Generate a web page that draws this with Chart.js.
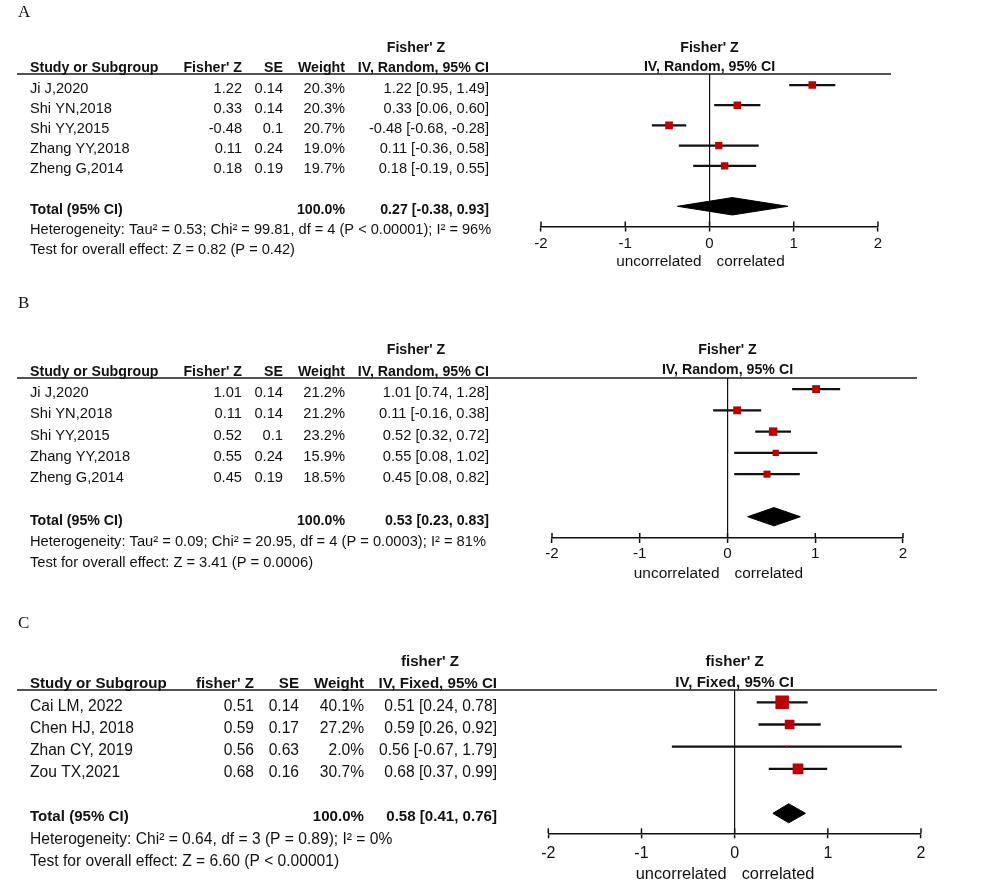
<!DOCTYPE html>
<html><head><meta charset="utf-8">
<script src="https://cdn.jsdelivr.net/npm/chart.js@4"></script>
<style>
html,body{margin:0;padding:0;background:#fff;}
#wrap{position:relative;width:1000px;height:889px;overflow:hidden;background:#fff;}
canvas{position:absolute;left:0;}
</style></head><body>
<div id="wrap">
<canvas id="cA" width="1000" height="290" style="top:0px"></canvas>
<canvas id="cB" width="1000" height="310" style="top:290px"></canvas>
<canvas id="cC" width="1000" height="289" style="top:600px"></canvas>
</div>
<script>
// ---------- DATA ----------
// Panel A
const studiesA = ["Ji J,2020", "Shi YN,2018", "Shi YY,2015", "Zhang YY,2018", "Zheng G,2014"];
const zA = [1.22, 0.33, -0.48, 0.11, 0.18];
const seA = [0.14, 0.14, 0.1, 0.24, 0.19];
const weightA = [20.3, 20.3, 20.7, 19.0, 19.7];
const ciLowA = [0.95, 0.06, -0.68, -0.36, -0.19];
const ciHighA = [1.49, 0.60, -0.28, 0.58, 0.55];
const totalA = [0.27, -0.38, 0.93];
const hetA = "Heterogeneity: Tau\u00b2 = 0.53; Chi\u00b2 = 99.81, df = 4 (P < 0.00001); I\u00b2 = 96%";
const testA = "Test for overall effect: Z = 0.82 (P = 0.42)";

// Panel B
const studiesB = ["Ji J,2020", "Shi YN,2018", "Shi YY,2015", "Zhang YY,2018", "Zheng G,2014"];
const zB = [1.01, 0.11, 0.52, 0.55, 0.45];
const seB = [0.14, 0.14, 0.1, 0.24, 0.19];
const weightB = [21.2, 21.2, 23.2, 15.9, 18.5];
const ciLowB = [0.74, -0.16, 0.32, 0.08, 0.08];
const ciHighB = [1.28, 0.38, 0.72, 1.02, 0.82];
const totalB = [0.53, 0.23, 0.83];
const hetB = "Heterogeneity: Tau\u00b2 = 0.09; Chi\u00b2 = 20.95, df = 4 (P = 0.0003); I\u00b2 = 81%";
const testB = "Test for overall effect: Z = 3.41 (P = 0.0006)";

// Panel C
const studiesC = ["Cai LM, 2022", "Chen HJ, 2018", "Zhan CY, 2019", "Zou TX,2021"];
const zC = [0.51, 0.59, 0.56, 0.68];
const seC = [0.14, 0.17, 0.63, 0.16];
const weightC = [40.1, 27.2, 2.0, 30.7];
const ciLowC = [0.24, 0.26, -0.67, 0.37];
const ciHighC = [0.78, 0.92, 1.79, 0.99];
const totalC = [0.58, 0.41, 0.76];
const hetC = "Heterogeneity: Chi\u00b2 = 0.64, df = 3 (P = 0.89); I\u00b2 = 0%";
const testC = "Test for overall effect: Z = 6.60 (P < 0.00001)";

const xTicks = [-2, -1, 0, 1, 2];
const effectAB = "Fisher' Z", effectC = "fisher' Z";
const methodAB = "IV, Random, 95% CI", methodC = "IV, Fixed, 95% CI";
const axisLeftLabel = "uncorrelated", axisRightLabel = "correlated";

// ---------- LAYOUT ----------
const FONT = 'Arial, "Liberation Sans", sans-serif';
const SERIF = '"Liberation Serif", "Times New Roman", serif';
const INK = '#111';
const RED = '#c00000';
const AXIS_H = 50;

const layoutA = {top:0, h:290, left:541, right:878, chartTop:74, chartBottom:226.5, yMin:-0.545, yMax:7.0,
  textDy:3.5, fs:14.6, fsb:14.2, tfs:15, cols:{study:30, z:242, se:283, w:345, ci:489, hdr1:416},
  lineL:17, lineR:891, tickPad:3.5, axTitleDy:35, label:'A', labelY:13};
const layoutB = {top:290, h:310, left:552, right:903, chartTop:378, chartBottom:538, yMin:-0.52, yMax:7.0,
  textDy:4, fs:14.7, fsb:14.2, tfs:15.2, cols:{study:30, z:242, se:283, w:345, ci:489, hdr1:416},
  lineL:17, lineR:917, tickPad:2, axTitleDy:35.5, label:'B', labelY:303.5};
const layoutC = {top:600, h:289, left:548.3, right:921, chartTop:690, chartBottom:833.3, yMin:-0.554, yMax:5.9,
  textDy:4, fs:15.6, fsb:15.1, tfs:16, cols:{study:30, z:254, se:299, w:364, ci:497, hdr1:430},
  lineL:17, lineR:937, tickPad:6, axTitleDy:41.5, label:'C', labelY:623.5};

const panels = [
  {id:'cA', studies:studiesA, z:zA, se:seA, w:weightA, lo:ciLowA, hi:ciHighA, total:totalA, het:hetA, test:testA, effect:effectAB, method:methodAB, L:layoutA},
  {id:'cB', studies:studiesB, z:zB, se:seB, w:weightB, lo:ciLowB, hi:ciHighB, total:totalB, het:hetB, test:testB, effect:effectAB, method:methodAB, L:layoutB},
  {id:'cC', studies:studiesC, z:zC, se:seC, w:weightC, lo:ciLowC, hi:ciHighC, total:totalC, het:hetC, test:testC, effect:effectC, method:methodC, L:layoutC}
];

function squareSide(w) { return Math.max(2, 0.3 * w + 1.5); }
function fmtCI(e, l, h) { return e.toFixed(2) + ' [' + l.toFixed(2) + ', ' + h.toFixed(2) + ']'; }

function txt(ctx, s, x, y, align, size, bold) {
  ctx.font = (bold ? 'bold ' : '') + size + 'px ' + FONT;
  ctx.textAlign = align;
  ctx.textBaseline = 'middle';
  ctx.fillStyle = INK;
  ctx.fillText(s, x, y);
}

function makeChart(P) {
  const L = P.L;
  const n = P.studies.length;
  const totalRow = n + 1;
  const dh = 0.43;
  const [te, tl, th] = P.total;
  const ciData = P.studies.map((s, i) => ({x: [P.lo[i], P.hi[i]], y: i}));
  const ptData = P.studies.map((s, i) => ({x: P.z[i], y: i}));
  const diamond = [
    {x: tl, y: totalRow}, {x: te, y: totalRow - dh}, {x: th, y: totalRow},
    {x: te, y: totalRow + dh}, {x: tl, y: totalRow}
  ];

  const textPlugin = {
    id: 'forestText',
    afterDraw(chart) {
      const ctx = chart.ctx;
      const ys = chart.scales.y, xs = chart.scales.x;
      const ca = chart.chartArea;
      const C = L.cols;
      const ry = r => ys.getPixelForValue(r) + L.textDy;
      ctx.save();
      // panel letter
      ctx.font = '17px ' + SERIF;
      ctx.textAlign = 'left'; ctx.textBaseline = 'middle'; ctx.fillStyle = INK;
      ctx.fillText(L.label, 18, L.labelY - L.top);
      // header line (table + plot)
      ctx.strokeStyle = '#1a1a1a'; ctx.lineWidth = 1.6;
      ctx.beginPath(); ctx.moveTo(L.lineL, ca.top); ctx.lineTo(L.lineR, ca.top); ctx.stroke();
      // upward tick parts
      ctx.strokeStyle = INK; ctx.lineWidth = 1.5;
      xs.ticks.forEach(t => {
        const px = xs.getPixelForValue(t.value);
        ctx.beginPath(); ctx.moveTo(px, ca.bottom - 5); ctx.lineTo(px, ca.bottom); ctx.stroke();
      });
      // headers
      txt(ctx, P.effect, C.hdr1, ry(-2), 'center', L.fsb, true);
      txt(ctx, 'Study or Subgroup', C.study, ry(-1), 'left', L.fsb, true);
      txt(ctx, P.effect, C.z, ry(-1), 'right', L.fsb, true);
      txt(ctx, 'SE', C.se, ry(-1), 'right', L.fsb, true);
      txt(ctx, 'Weight', C.w, ry(-1), 'right', L.fsb, true);
      txt(ctx, P.method, C.ci, ry(-1), 'right', L.fsb, true);
      const cx = (ca.left + ca.right) / 2;
      txt(ctx, P.effect, cx, ry(-2), 'center', L.fsb, true);
      txt(ctx, P.method, cx, ry(-1) - 1.5, 'center', L.fsb, true);
      // studies
      P.studies.forEach((s, i) => {
        const y = ry(i);
        txt(ctx, s, C.study, y, 'left', L.fs, false);
        txt(ctx, P.z[i].toFixed(2), C.z, y, 'right', L.fs, false);
        txt(ctx, String(P.se[i]), C.se, y, 'right', L.fs, false);
        txt(ctx, P.w[i].toFixed(1) + '%', C.w, y, 'right', L.fs, false);
        txt(ctx, fmtCI(P.z[i], P.lo[i], P.hi[i]), C.ci, y, 'right', L.fs, false);
      });
      // total
      const wSum = P.w.reduce((a, b) => a + b, 0);
      txt(ctx, 'Total (95% CI)', C.study, ry(totalRow), 'left', L.fsb, true);
      txt(ctx, (Math.round(wSum)).toFixed(1) + '%', C.w, ry(totalRow), 'right', L.fsb, true);
      txt(ctx, fmtCI(te, tl, th), C.ci, ry(totalRow), 'right', L.fsb, true);
      txt(ctx, P.het, C.study, ry(n + 2), 'left', L.fs, false);
      txt(ctx, P.test, C.study, ry(n + 3), 'left', L.fs, false);
      // axis direction labels
      const zp = xs.getPixelForValue(0);
      txt(ctx, axisLeftLabel, zp - 8, ca.bottom + L.axTitleDy, 'right', L.fs * 1.05, false);
      txt(ctx, axisRightLabel, zp + 7, ca.bottom + L.axTitleDy, 'left', L.fs * 1.05, false);
      ctx.restore();
    }
  };

  return new Chart(document.getElementById(P.id), {
    type: 'scatter',
    data: {
      datasets: [
        {
          type: 'scatter', data: ptData, pointStyle: 'rect',
          pointRadius: c => squareSide(P.w[c.dataIndex]) / Math.SQRT2,
          backgroundColor: RED, borderColor: RED, borderWidth: 0, order: 0
        },
        {
          type: 'bar', indexAxis: 'y', data: ciData, backgroundColor: INK,
          borderWidth: 0, barThickness: 1.6, grouped: false, order: 1
        },
        {
          type: 'line', data: diamond, borderColor: '#000', backgroundColor: '#000',
          borderWidth: 1, fill: 'shape', pointRadius: 0, tension: 0, order: 2
        }
      ]
    },
    options: {
      responsive: false, animation: false, events: [], devicePixelRatio: 1,
      layout: { padding: { left: L.left, right: 1000 - L.right, top: L.chartTop - L.top, bottom: L.top + L.h - L.chartBottom - AXIS_H } },
      plugins: { legend: { display: false }, tooltip: { enabled: false } },
      scales: {
        x: {
          type: 'linear', min: xTicks[0], max: xTicks[xTicks.length - 1], offset: false,
          afterFit: s => { s.height = AXIS_H; },
          afterBuildTicks: s => { s.ticks = xTicks.map(v => ({value: v})); },
          ticks: { color: INK, font: { size: L.tfs, family: FONT }, padding: L.tickPad, maxRotation: 0, autoSkip: false },
          grid: {
            offset: false, drawOnChartArea: true, drawTicks: true, tickLength: 5,
            color: c => (c.tick && c.tick.value === 0) ? INK : 'rgba(0,0,0,0)',
            tickColor: INK, lineWidth: 1.2, tickWidth: 1.5
          },
          border: { display: true, color: INK, width: 1.5 }
        },
        y: { type: 'linear', display: false, offset: false, grid: { offset: false }, min: L.yMin, max: L.yMax, reverse: true }
      }
    },
    plugins: [textPlugin]
  });
}

panels.forEach(makeChart);
</script>
</body></html>
